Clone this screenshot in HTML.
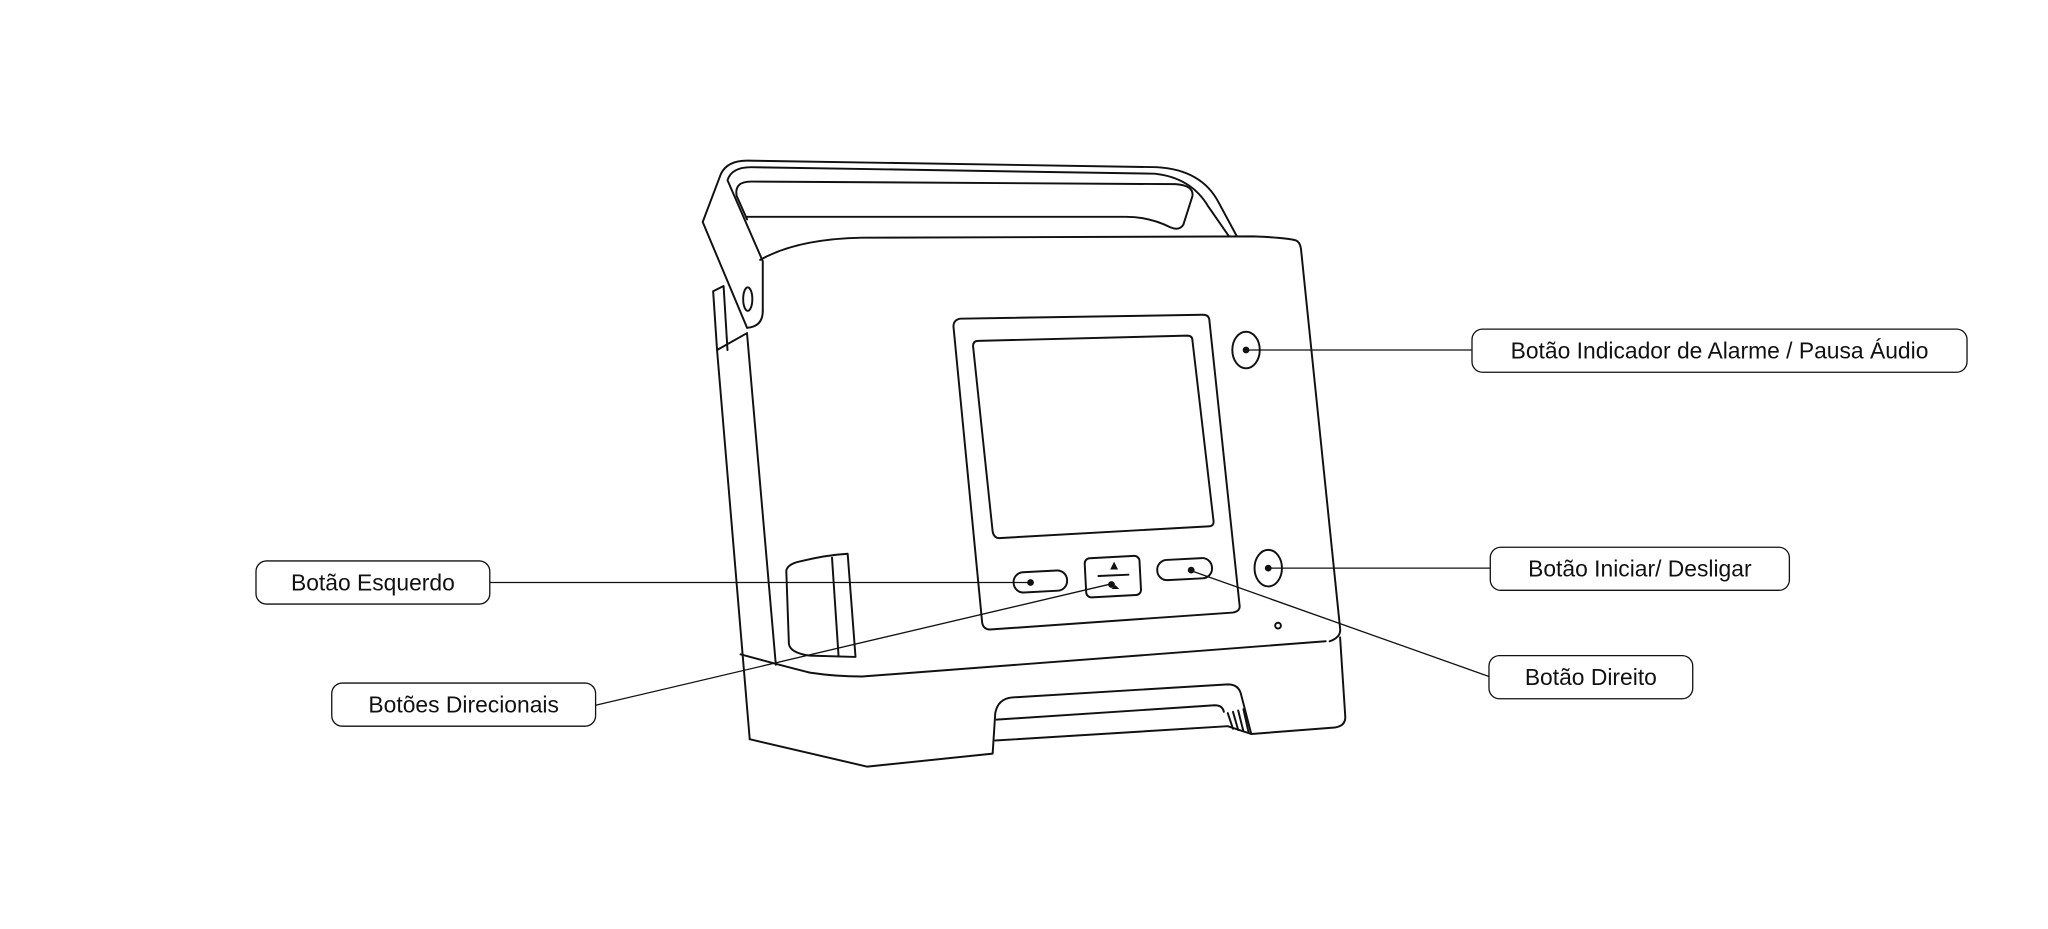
<!DOCTYPE html>
<html><head><meta charset="utf-8"><style>
html,body{margin:0;padding:0;background:#fff;}
svg{display:block;}
text{font-family:"Liberation Sans",sans-serif;font-size:17.5px;fill:#111;}
</style></head><body>
<svg width="2048" height="929" viewBox="0 0 1568 711.3" preserveAspectRatio="none" xmlns="http://www.w3.org/2000/svg">
<g fill="none" stroke="#111" stroke-width="1.5" stroke-linejoin="round" stroke-linecap="round">
<path d="M572,251 L538,170 L552,133 Q557,123 572,123 L886,128 Q920,130 933,155 L947,181"/>
<path d="M584,238 L584,200 L557,138 Q560,128 575,128 L884,133 Q912,136 925,158 L941,181"/>
<path d="M572,168 L564,150 Q562,139 575,139 L900,141 Q914,142 913,150 L906,172 Q903,177 896,174 Q880,166 862,166 L572,166"/>
<path d="M584,238 Q584,250 572,251"/>
<ellipse cx="572.5" cy="229" rx="3.5" ry="9"/>
<path d="M546,223 L554,219 L557,268 M546,223 L549,268 L572,255"/>
<path d="M549,268 L574,566"/>
<path d="M572,256 L594,509"/>
<path d="M582,199 Q610,183 660,182 L960,181 Q985,182 992,184 Q995,185 996,190 L1026,481 Q1027,488 1018,491"/>
<path d="M567,501 Q600,510 620,515 Q640,518 660,518 L1015,491"/>
<path d="M574,566 L664,587 L760,577 L762,546 Q764,535 775,534 L940,524 Q948,524 950,531 L958,562 L1022,557 Q1030,556 1030,549 L1026,488"/>
<path d="M763,551 L930,540 Q936,540 937,545"/>
<path d="M762,567 L940,556 L958,562"/>
<path d="M940,546 L944,558 M944,545 L948,559 M948,544 L952,560 M952,543 L956,561"/>
<path d="M602,437 Q603,432 612,430 Q632,425 649,424 L655,503 L620,502 Q605,500 604,493 Z"/>
<path d="M637,427 L642,502"/>
<path d="M735,244 L921,241 Q926,241 926,246 L949,463 Q950,468 944,469 L758,482 Q753,482 752,477 L730,250 Q730,245 735,244 Z"/>
<path d="M749,261 L909,257 Q913,257 913,261 L929,398 Q930,403 925,403 L765,412 Q761,412 760,407 L745,265 Q745,261 749,261 Z"/>
<rect x="776" y="437.5" width="41" height="15.5" rx="7.5" transform="rotate(-3 796 445)"/>
<rect x="831" y="426.5" width="42" height="30" rx="4" transform="rotate(-3 852 441)"/>
<rect x="886" y="428" width="42" height="15.5" rx="7.5" transform="rotate(-3 907 436)"/>
<path d="M841,441 L864,440" />
<ellipse cx="954" cy="268" rx="10.5" ry="14"/>
<ellipse cx="971" cy="435" rx="10.5" ry="14"/>
<circle cx="978.5" cy="479" r="2.2"/>
</g>
<path d="M853,430 L850,436 L856,436 Z" fill="#111"/>
<path d="M854,448 L851,451 L857,451 Z" fill="#111"/>
<g stroke="#111" stroke-width="1" fill="none">
<line x1="954" y1="268" x2="1127" y2="268"/>
<line x1="971" y1="435" x2="1141" y2="435"/>
<line x1="912" y1="437" x2="1140" y2="518"/>
<line x1="375" y1="446" x2="789" y2="446"/>
<line x1="456" y1="540" x2="851" y2="447"/>
</g>
<g fill="#111">
<circle cx="954" cy="268" r="2.6"/><circle cx="971" cy="435" r="2.6"/>
<circle cx="912" cy="436.5" r="2.6"/><circle cx="789" cy="446" r="2.6"/><circle cx="851" cy="447.5" r="2.6"/>
</g>
<g fill="#fff" stroke="#111" stroke-width="1">
<rect x="1127" y="252" width="379" height="33" rx="8"/>
<rect x="1141" y="419" width="229" height="33" rx="8"/>
<rect x="1140" y="502" width="156" height="33" rx="8"/>
<rect x="196" y="429.5" width="179" height="33" rx="8"/>
<rect x="254" y="523" width="202" height="33" rx="8"/>
</g>
<text x="1316.5" y="274.5" text-anchor="middle">Botão Indicador de Alarme / Pausa Áudio</text>
<text x="1255.5" y="441.5" text-anchor="middle">Botão Iniciar/ Desligar</text>
<text x="1218" y="524.5" text-anchor="middle">Botão Direito</text>
<text x="285.5" y="452" text-anchor="middle">Botão Esquerdo</text>
<text x="355" y="545.5" text-anchor="middle">Botões Direcionais</text>
</svg>
</body></html>
